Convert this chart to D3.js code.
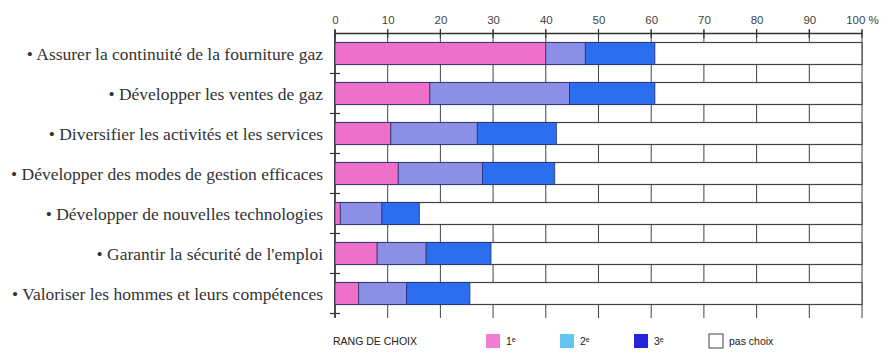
<!DOCTYPE html>
<html><head><meta charset="utf-8">
<script src="https://cdn.jsdelivr.net/npm/d3@7"></script>
<style>body{margin:0;background:#fff}svg{display:block}</style>
</head><body>
<script>
const categories = [
  "• Assurer la continuité de la fourniture gaz",
  "• Développer les ventes de gaz",
  "• Diversifier les activités et les services",
  "• Développer des modes de gestion efficaces",
  "• Développer de nouvelles technologies",
  "• Garantir la sécurité de l'emploi",
  "• Valoriser les hommes et leurs compétences"
];
const rank1 = [40, 18, 10.6, 12, 1, 8, 4.5];
const rank2 = [7.5, 26.5, 16.4, 16, 7.9, 9.3, 9.1];
const rank3 = [13.2, 16.2, 15, 13.7, 7.1, 12.3, 12];
const tickValues = [0,10,20,30,40,50,60,70,80,90,100];
const tickLabels = ["0","10","20","30","40","50","60","70","80","90","100 %"];
const seriesNames = ["1ᵉ","2ᵉ","3ᵉ","pas choix"];
const legendTitle = "RANG DE CHOIX";

const W = 889, H = 353;
const svg = d3.select("body").append("svg").attr("width", W).attr("height", H);

const x = d3.scaleLinear().domain([0,100]).range([335, 862]);
const y = d3.scaleBand().domain(categories).range([33.5, 313.5]).paddingInner(0.45).paddingOuter(0.225);

const barColors = ["#ef70c9", "#8b8fe6", "#2b6ff0"];
const legendColors = ["#f27ed3", "#62c6f4", "#2424dc"];

// vertical grid lines
svg.append("g").selectAll("line").data(tickValues).join("line")
  .attr("x1", d => x(d)).attr("x2", d => x(d))
  .attr("y1", 30).attr("y2", 318)
  .attr("stroke", "#444").attr("stroke-width", 1);

// top axis
const axis = d3.axisTop(x).tickValues(tickValues).tickFormat((d,i) => tickLabels[i]).tickSize(0).tickPadding(9);
const ag = svg.append("g").attr("transform", "translate(0,33)").call(axis);
ag.select(".domain").attr("stroke", "#333").attr("stroke-width", 1.5);
ag.selectAll("text").attr("font-family", "Liberation Sans, Arial, sans-serif").attr("font-size", 11.5).attr("fill", "#444");
svg.append("g").selectAll("line").data(tickValues).join("line")
  .attr("x1", d => x(d)).attr("x2", d => x(d)).attr("y1", 29).attr("y2", 38)
  .attr("stroke", "#333").attr("stroke-width", 1.2);

// left axis line + row separators
svg.append("line").attr("x1", x(0)).attr("x2", x(0)).attr("y1", 30).attr("y2", 318).attr("stroke", "#333").attr("stroke-width", 1.5);
const seps = categories.map((c,i) => y(c) + y.bandwidth() + (y.step()-y.bandwidth())/2);
svg.append("g").selectAll("line").data(seps).join("line")
  .attr("x1", x(0)-5).attr("x2", x(0)+5).attr("y1", d => d).attr("y2", d => d)
  .attr("stroke", "#333").attr("stroke-width", 1.2);

// full-width white rows
svg.append("g").selectAll("rect").data(categories).join("rect")
  .attr("x", x(0)).attr("y", d => y(d)).attr("width", x(100)-x(0)).attr("height", y.bandwidth())
  .attr("fill", "#fff").attr("stroke", "#444").attr("stroke-width", 1.2);

// stacked segments
const rows = categories.map((c,i) => ({c, v:[rank1[i], rank2[i], rank3[i]]}));
const segs = [];
rows.forEach(r => { let s = 0; r.v.forEach((v,k) => { segs.push({c:r.c, x0:s, x1:s+v, k}); s += v; }); });
svg.append("g").selectAll("rect").data(segs).join("rect")
  .attr("x", d => x(d.x0)).attr("width", d => x(d.x1)-x(d.x0))
  .attr("y", d => y(d.c)).attr("height", y.bandwidth())
  .attr("fill", d => barColors[d.k]).attr("stroke", "#2a3070").attr("stroke-width", 0.8);

// category labels
svg.append("g").selectAll("text").data(categories).join("text")
  .attr("x", 323).attr("y", d => y(d) + y.bandwidth()/2).attr("dy", "0.35em")
  .attr("text-anchor", "end").attr("font-family", "Liberation Serif, Times New Roman, serif")
  .attr("font-size", 17.5).attr("fill", "#333").text(d => d);

// legend
const lg = svg.append("g").attr("font-family", "Liberation Sans, Arial, sans-serif").attr("fill", "#222");
lg.append("text").attr("x", 333).attr("y", 345).attr("font-size", 10.5).text(legendTitle);
const lx = [486, 560, 634, 709];
seriesNames.forEach((n,i) => {
  lg.append("rect").attr("x", lx[i]).attr("y", 334).attr("width", 14).attr("height", 14)
    .attr("fill", i < 3 ? legendColors[i] : "#fff").attr("stroke", i < 3 ? "none" : "#444");
  lg.append("text").attr("x", lx[i] + 20).attr("y", 345).attr("font-size", 10.5).text(n);
});
</script>
</body></html>
